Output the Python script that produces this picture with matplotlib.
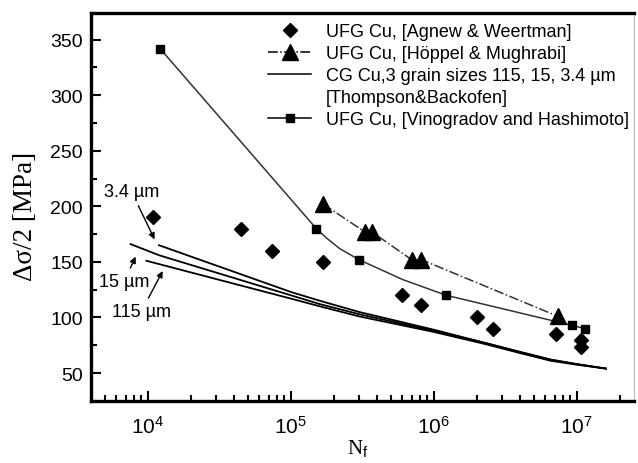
import matplotlib
matplotlib.use("Agg")
import matplotlib.pyplot as plt
from matplotlib.lines import Line2D
from matplotlib.ticker import LogLocator, MultipleLocator, NullFormatter

plt.rcParams['font.family'] = 'Liberation Sans'
plt.rcParams['mathtext.fontset'] = 'custom'
plt.rcParams['mathtext.rm'] = 'Liberation Sans'
plt.rcParams['mathtext.it'] = 'Liberation Sans:italic'

# === DATA ===
# UFG Cu, Agnew & Weertman (diamonds)
agnew_n = [1.09e4, 4.5e4, 7.4e4, 1.67e5, 6.0e5, 8.2e5, 2.0e6, 2.6e6, 7.2e6, 1.08e7, 1.08e7]
agnew_s = [190, 180, 160, 150, 120, 111, 100, 90, 85, 80, 73]

# UFG Cu, Hoeppel & Mughrabi (triangles)
hoppel_n = [1.69e5, 3.3e5, 3.7e5, 7.0e5, 8.2e5, 7.4e6]
hoppel_s = [202, 177, 177, 152, 152, 101]

# UFG Cu, Vinogradov and Hashimoto (squares) and its fitted curve
vino_n = [1.22e4, 1.51e5, 3.0e5, 1.22e6, 9.2e6, 1.14e7]
vino_s = [342, 180, 152, 120, 93, 90]
vino_curve_n = [1.22e4, 1.51e5, 1.8e5, 2.2e5, 3.0e5, 6.1e5, 1.22e6, 9.2e6, 1.14e7]
vino_curve_s = [342, 180, 171, 162, 152, 134, 120, 93, 90]

# CG Cu, Thompson & Backofen, three grain sizes
tb34_n = [1.2e4, 1.0e5, 1.6e5, 3.0e5, 1.0e6, 2.3e6, 4.0e6, 6.6e6, 1.0e7, 1.6e7]
tb34_s = [165, 123, 115, 105, 89, 77, 69, 62, 58, 54]
tb15_n = [7.6e3, 1.2e4, 1.0e5, 1.6e5, 3.0e5, 1.0e6, 2.3e6, 4.0e6, 6.6e6, 1.0e7, 1.6e7]
tb15_s = [166, 156, 120, 112, 103, 88, 77, 69, 62, 58, 54]
tb115_n = [9.8e3, 1.0e5, 1.6e5, 3.0e5, 1.0e6, 2.3e6, 4.0e6, 6.6e6, 1.0e7, 1.6e7]
tb115_s = [151, 117, 110, 101, 87, 76, 68, 61, 57.5, 54]

# === PLOT ===
fig = plt.figure(figsize=(6.38, 4.64), dpi=100)
ax = fig.add_axes([0.1426, 0.1336, 0.8511, 0.8362])

for n, s in [(tb34_n, tb34_s), (tb15_n, tb15_s), (tb115_n, tb115_s)]:
    ax.plot(n, s, color='black', lw=1.3)

ax.plot(vino_curve_n, vino_curve_s, color='#333333', lw=1.1)
ax.plot(vino_n, vino_s, ls='none', marker='s', ms=6, mfc='black', mec='black')
ax.plot(hoppel_n, hoppel_s, color='#333333', lw=1.1, ls='-.', marker='^',
        ms=11, mfc='black', mec='black')
ax.plot(agnew_n, agnew_s, ls='none', marker='D', ms=7, mfc='black', mec='black')

ax.set_xscale('log')
ax.set_xlim(4013, 2.516e7)
ax.set_ylim(24.8, 374)

ax.xaxis.set_major_locator(LogLocator(base=10, numticks=10))
ax.xaxis.set_minor_locator(LogLocator(base=10, subs=range(2, 10), numticks=20))
ax.xaxis.set_minor_formatter(NullFormatter())
ax.yaxis.set_major_locator(MultipleLocator(50))
ax.yaxis.set_minor_locator(MultipleLocator(25))

ax.tick_params(which='both', direction='in', top=False, right=False, width=1.5)
ax.tick_params(which='major', length=7, labelsize=14)
ax.tick_params(which='minor', length=4)
ax.tick_params(axis='x', pad=10, labelsize=15)
ax.tick_params(axis='y', pad=6)

for side in ['left', 'bottom', 'top']:
    ax.spines[side].set_linewidth(2.4)
ax.spines['right'].set_linewidth(0.8)
ax.spines['right'].set_color('#bbbbbb')

ax.set_ylabel('Δσ/2 [MPa]', family='Liberation Serif', fontsize=19.5)
ax.yaxis.set_label_coords(-0.097, 0.477)
fig.text(358 / 638, 1 - 449 / 464, 'N$_\\mathrm{f}$', family='Liberation Serif',
         fontsize=15, ha='center', va='center')

# grain size annotations
arrow = dict(arrowstyle='-|>', color='black', lw=1.0, mutation_scale=9)
ax.annotate('3.4 µm', xy=(1.14e4, 168), xytext=(4950, 213), fontsize=13,
            ha='left', va='center', arrowprops=arrow)
ax.annotate('15 µm', xy=(8.4e3, 157), xytext=(6820, 132), fontsize=13,
            ha='center', va='center', arrowprops=arrow)
ax.annotate('115 µm', xy=(1.3e4, 144), xytext=(9000, 105), fontsize=13,
            ha='center', va='center', arrowprops=arrow)

handles = [
    Line2D([], [], ls='none', marker='D', ms=7, color='black'),
    Line2D([], [], ls='-.', lw=1.1, marker='^', ms=11, color='black'),
    Line2D([], [], ls='-', lw=1.1, color='black'),
    Line2D([], [], ls='none', color='none'),
    Line2D([], [], ls='-', lw=1.1, marker='s', ms=6, color='black'),
]
labels = [
    'UFG Cu, [Agnew & Weertman]',
    'UFG Cu, [Höppel & Mughrabi]',
    'CG Cu,3 grain sizes 115, 15, 3.4 µm',
    '[Thompson&Backofen]',
    'UFG Cu, [Vinogradov and Hashimoto]',
]
ax.legend(handles, labels, loc='upper left', bbox_to_anchor=(268 / 638, 1 - 24 / 464),
          bbox_transform=fig.transFigure, frameon=False, fontsize=13,
          borderpad=0, borderaxespad=0, handlelength=2.4, handletextpad=0.8,
          labelspacing=0.28)

fig.savefig('out.png', dpi=100)
